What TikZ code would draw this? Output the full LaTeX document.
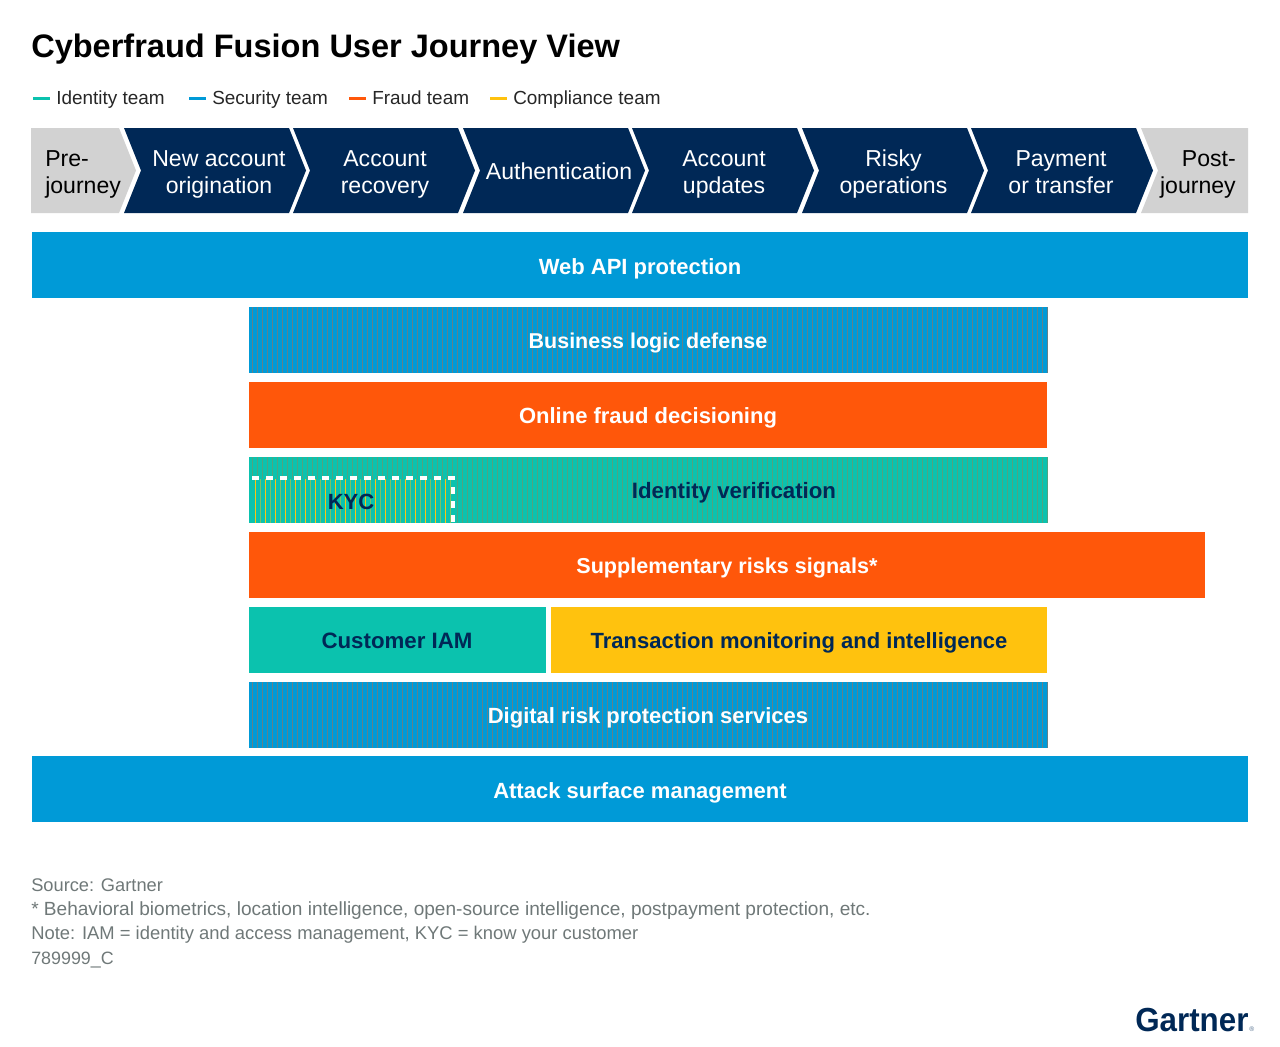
\documentclass[tikz,border=0pt]{standalone}
\usepackage{fontspec}
\setmainfont{Liberation Sans}
\usepackage{xcolor}
\definecolor{navy}{HTML}{002856}
\definecolor{idteal}{HTML}{0BC2AE}
\definecolor{secblue}{HTML}{009AD7}
\definecolor{fraudorange}{HTML}{FF570A}
\definecolor{compyellow}{HTML}{FFC20E}
\definecolor{stepgray}{HTML}{D2D2D2}
\definecolor{notegray}{HTML}{6F7878}
\tikzset{
    barlabel/.style={font=\bfseries\fontsize{#1}{20}\selectfont, anchor=base, inner sep=0pt},
    barlabel/.default=16.5,
    steplabel/.style={font=\fontsize{17.3}{20.25}\selectfont, align=center, anchor=base, inner sep=0pt},
    legendlabel/.style={font=\fontsize{14.2}{17}\selectfont, anchor=base west, inner sep=0pt, text=black!85},
    notelabel/.style={font=\fontsize{#1}{16}\selectfont, anchor=base west, inner sep=0pt, text=notegray},
}
\begin{document}
\begin{tikzpicture}[x=0.75pt,y=-0.75pt]
    \useasboundingbox (0,0) rectangle (1280,1046);

    \draw (31,57) node[anchor=base west, inner sep=0pt, font=\bfseries\fontsize{24.4}{28}\selectfont] (title) {Cyberfraud Fusion User Journey View};

    % legend
    \foreach \xa/\col/\name/\txt in {33/idteal/identity/Identity team, 189/secblue/security/Security team, 349/fraudorange/fraud/Fraud team, 490/compyellow/compliance/Compliance team} {
        \draw[\col, line width=2.25pt] (\xa,98) -- (\xa+17,98);
        \draw (\xa+23,104) node[legendlabel] (\name) {\txt};
    }

    % journey steps
    \fill[stepgray] (31,128) -- (119,128) -- (136,170.5) -- (119,213) -- (31,213) -- cycle;
    \foreach \xa/\xm/\yb/\name/\txt in {124/219/193/neworigin/New account\\origination, 293/385/193/recovery/Account\\recovery, 463/559/179/authn/Authentication, 632/724/193/updates/Account\\updates, 802/893.5/193/riskyops/Risky\\operations, 971/1061/193/payment/Payment\\or transfer} {
        \fill[navy] (\xa,128) -- (\xa+165,128) -- (\xa+182,170.5) -- (\xa+165,213) -- (\xa,213) -- (\xa+17,170.5) -- cycle;
        \draw (\xm,\yb) node[steplabel, text=white] (\name) {\txt};
    }
    \fill[stepgray] (1141,128) -- (1248,128) -- (1248,213) -- (1141,213) -- (1158,170.5) -- cycle;
    \draw (45,193) node[steplabel, anchor=base west, align=left] (prejourney) {Pre-\\journey};
    \draw (1236,193) node[steplabel, anchor=base east, align=right] (postjourney) {Post-\\journey};

    % bars
    \fill[secblue] (32,232) rectangle (1248,298);
    \fill[secblue] (249,307) rectangle (1047,373);
    \fill[fraudorange] (249,382) rectangle (1047,448);
    \fill[idteal] (249,457) rectangle (1047,523);
    \fill[fraudorange] (249,532) rectangle (1205,598);
    \fill[idteal] (249,607) rectangle (546,673);
    \fill[compyellow] (551,607) rectangle (1047,673);
    \fill[secblue] (249,682) rectangle (1047,748);
    \fill[secblue] (32,756) rectangle (1248,822);

    % stripes
    \foreach \xa in {252,257,...,1047} {
        \draw[fraudorange!38!secblue, line width=0.6pt] (\xa,307) -- (\xa,373);
        \draw[fraudorange!38!secblue, line width=0.6pt] (\xa,682) -- (\xa,748);
        \draw[fraudorange!28!idteal, line width=0.5pt] (\xa,457) -- (\xa,523);
    }
    \fill[idteal] (249,479) rectangle (453,523);
    \foreach \xa in {255,265,...,450} {
        \draw[compyellow, line width=0.7pt] (\xa,479) -- (\xa,523);
        \draw[compyellow!45!idteal, line width=0.7pt] (\xa+5,479) -- (\xa+5,523);
    }
    \draw[white, line width=2.4pt, dash pattern=on 5.5pt off 5pt] (252,478) -- (453,478) -- (453,522);

    \draw (640,274) node[barlabel, text=white] (webapi) {Web API protection};
    \draw (648,348) node[barlabel=16.1, text=white] (bizlogic) {Business logic defense};
    \draw (648,423) node[barlabel, text=white] (onlinefraud) {Online fraud decisioning};
    \draw (734,498) node[barlabel=16.7, text=navy] (idverify) {Identity verification};
    \draw (351,509) node[barlabel, text=navy] (kyc) {KYC};
    \draw (727,573) node[barlabel=16.2, text=white] (supprisk) {Supplementary risks signals*};
    \draw (397,648) node[barlabel=16.7, text=navy] (custiam) {Customer IAM};
    \draw (799,648) node[barlabel, text=navy] (txmon) {Transaction monitoring and intelligence};
    \draw (648,723) node[barlabel, text=white] (drps) {Digital risk protection services};
    \draw (640,798) node[barlabel, text=white] (asm) {Attack surface management};

    % notes
    \draw (31,891) node[notelabel=13.7] (source) {Source: Gartner};
    \draw (31,915) node[notelabel=14.3] (footnote) {* Behavioral biometrics, location intelligence, open-source intelligence, postpayment protection, etc.};
    \draw (31,939) node[notelabel=13.8] (abbrev) {Note: IAM = identity and access management, KYC = know your customer};
    \draw (31,964) node[notelabel=13.4] (docid) {789999\_C};

    \draw (1135,1031) node[anchor=base west, inner sep=0pt, xscale=0.94, text=navy, font=\bfseries\fontsize{25}{30}\selectfont] (logo) {Gartner};
    \draw (1249,1031) node[anchor=base west, inner sep=0pt, text=navy!70, font=\fontsize{5}{6}\selectfont] (regmark) {®};
\end{tikzpicture}
\end{document}
